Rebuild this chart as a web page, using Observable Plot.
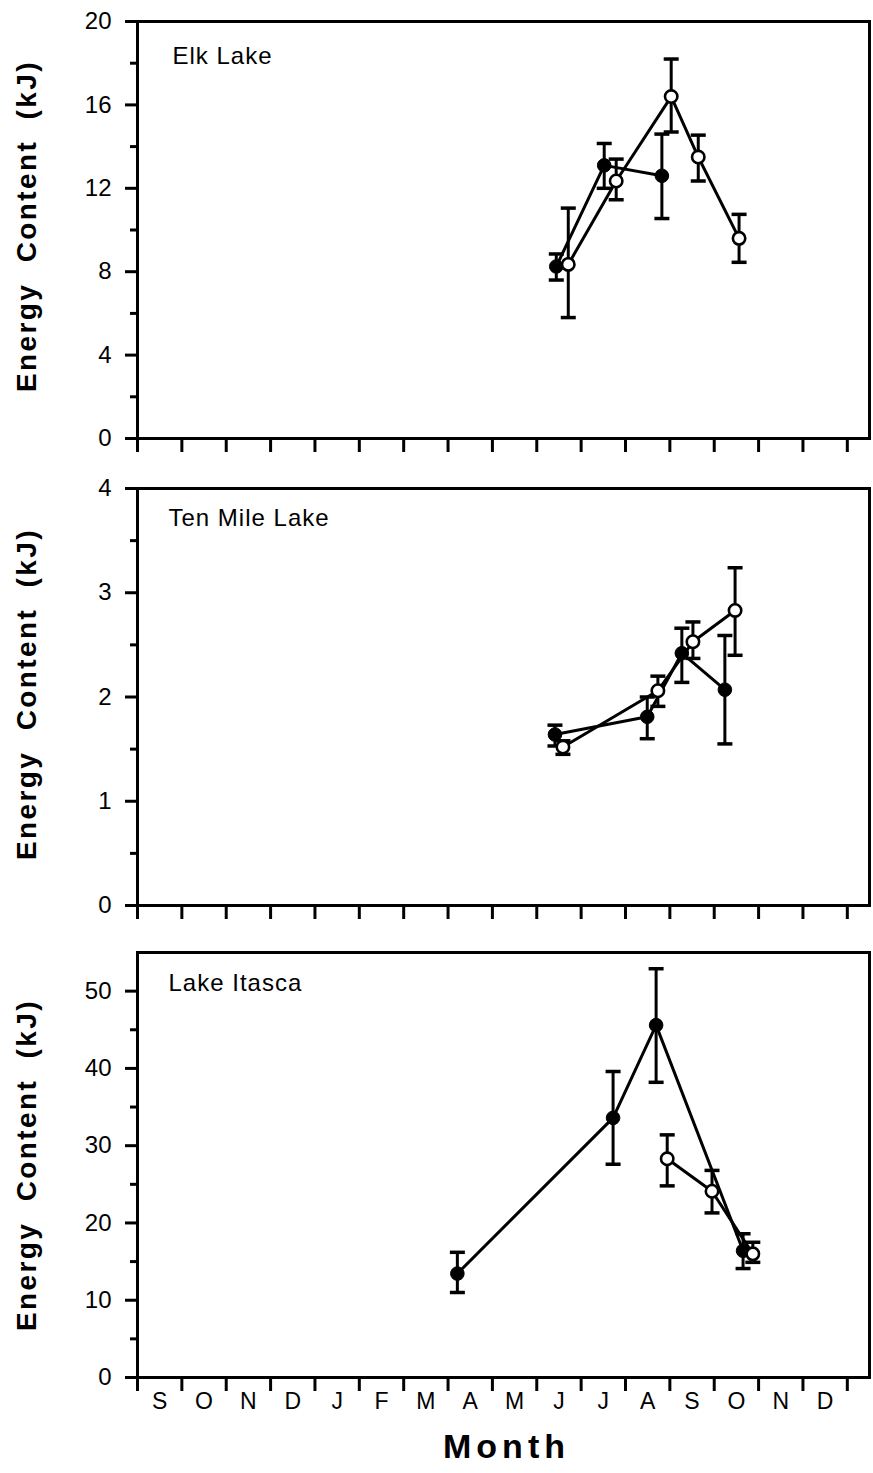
<!DOCTYPE html>
<html><head><meta charset="utf-8">
<script src="https://cdn.jsdelivr.net/npm/d3@7"></script>
<script src="https://cdn.jsdelivr.net/npm/@observablehq/plot@0.6"></script>
<style>
html,body{margin:0;padding:0;background:#fff;}
#chart svg{display:block;}
</style></head><body><div id="chart"></div>
<script>
// ---- shared labels ----
const months = ["S","O","N","D","J","F","M","A","M","J","J","A","S","O","N","D"];
const yLabel = "Energy  Content  (kJ)";
const xLabel = "Month";

// ---- Elk Lake ----
const elkTitle = "Elk Lake";
const elkTicks = [0, 4, 8, 12, 16, 20];
const elkMinorTicks = [2, 6, 10, 14, 18];
const elkFilledMonth = [9.44, 10.52, 11.82];
const elkFilledValue = [8.25, 13.1, 12.6];
const elkFilledLow   = [7.6, 12.0, 10.55];
const elkFilledHigh  = [8.85, 14.15, 14.6];
const elkOpenMonth = [9.71, 10.79, 12.03, 12.64, 13.56];
const elkOpenValue = [8.35, 12.35, 16.4, 13.5, 9.6];
const elkOpenLow   = [5.8, 11.45, 14.7, 12.35, 8.45];
const elkOpenHigh  = [11.05, 13.4, 18.2, 14.55, 10.75];

// ---- Ten Mile Lake ----
const tenTitle = "Ten Mile Lake";
const tenTicks = [0, 1, 2, 3, 4];
const tenMinorTicks = [0.5, 1.5, 2.5, 3.5];
const tenFilledMonth = [9.41, 11.49, 12.27, 13.24];
const tenFilledValue = [1.64, 1.81, 2.42, 2.07];
const tenFilledLow   = [1.53, 1.6, 2.14, 1.55];
const tenFilledHigh  = [1.73, 2.0, 2.66, 2.59];
const tenOpenMonth = [9.59, 11.73, 12.52, 13.47];
const tenOpenValue = [1.52, 2.06, 2.53, 2.83];
const tenOpenLow   = [1.45, 1.91, 2.37, 2.4];
const tenOpenHigh  = [1.58, 2.2, 2.72, 3.24];

// ---- Lake Itasca ----
const itaTitle = "Lake Itasca";
const itaTicks = [0, 10, 20, 30, 40, 50];
const itaMinorTicks = [5, 15, 25, 35, 45];
const itaFilledMonth = [7.21, 10.72, 11.69, 13.65];
const itaFilledValue = [13.45, 33.6, 45.6, 16.4];
const itaFilledLow   = [11.0, 27.6, 38.2, 14.1];
const itaFilledHigh  = [16.2, 39.6, 52.9, 18.6];
const itaOpenMonth = [11.94, 12.95, 13.87];
const itaOpenValue = [28.3, 24.1, 16.0];
const itaOpenLow   = [24.8, 21.3, 14.9];
const itaOpenHigh  = [31.4, 26.8, 17.5];

const FONT = "'Liberation Sans', Arial, Helvetica, sans-serif";

const rows = (m, v, lo, hi) => m.map((d, i) => ({month: d, value: v[i], low: lo[i], high: hi[i]}));

// horizontal cap symbol for error bars
const capSymbol = {
  draw(context, size) {
    const r = Math.sqrt(size / Math.PI);
    context.moveTo(-r, 0);
    context.lineTo(r, 0);
  }
};

function panel({title, yMax, ticks, minor, filled, open, height, marginTop, marginBottom, bottom, titleDx, titleDy, labelDy}) {
  const monthTicks = d3.range(months.length + 1);
  const series = [filled, open];
  const marks = [];
  // y axis
  marks.push(Plot.axisY({ticks, tickSize: 12, tickPadding: 14, strokeWidth: 3, fontSize: 24,
    tickFormat: d => String(d), label: null}));
  marks.push(Plot.axisY({ticks: minor, tickSize: 7, strokeWidth: 3, tickFormat: () => "", label: null}));
  // x axis ticks
  marks.push(Plot.axisX({ticks: monthTicks, tickSize: 14, strokeWidth: 3, tickFormat: () => "", label: null}));
  if (bottom) {
    marks.push(Plot.axisX({ticks: months.map((m, i) => i + 0.5), tickSize: 0, tickPadding: 15,
      fontSize: 23, tickFormat: d => months[Math.floor(d)], label: null}));
    marks.push(Plot.text([xLabel], {frameAnchor: "bottom", dy: 80, dx: 3, fontSize: 34, fontWeight: "bold"}));
  }
  marks.push(Plot.frame({strokeWidth: 3}));
  // y label
  marks.push(Plot.text([yLabel], {frameAnchor: "left", dx: -110, dy: labelDy, rotate: -90, fontSize: 28,
    textAnchor: "middle", fontWeight: "bold"}));
  // title
  marks.push(Plot.text([title], {frameAnchor: "top-left", dx: titleDx, dy: titleDy, fontSize: 24,
    textAnchor: "start", lineAnchor: "top"}));
  for (const s of series) {
    marks.push(Plot.line(s, {x: "month", y: "value", stroke: "black", strokeWidth: 3}));
    marks.push(Plot.ruleX(s, {x: "month", y1: "low", y2: "high", stroke: "black", strokeWidth: 3}));
    marks.push(Plot.dot(s, {x: "month", y: "low", symbol: capSymbol, r: 7.5, stroke: "black", strokeWidth: 3.5, fill: "none"}));
    marks.push(Plot.dot(s, {x: "month", y: "high", symbol: capSymbol, r: 7.5, stroke: "black", strokeWidth: 3.5, fill: "none"}));
  }
  marks.push(Plot.dot(filled, {x: "month", y: "value", r: 6.8, fill: "black", stroke: "black", strokeWidth: 1}));
  marks.push(Plot.dot(open, {x: "month", y: "value", r: 6.2, fill: "white", stroke: "black", strokeWidth: 2.6}));

  const svg = Plot.plot({
    width: 873,
    height,
    marginLeft: 137,
    marginRight: 4,
    marginTop,
    marginBottom,
    style: {fontFamily: FONT, color: "black", background: "white", overflow: "visible"},
    x: {domain: [0, 16.5], label: null},
    y: {domain: [0, yMax], label: null},
    marks
  });
  // letter spacing / preserved spaces for the label texts
  d3.select(svg).selectAll("text").each(function() {
    const t = this.textContent;
    if (t === yLabel) d3.select(this).style("white-space", "pre").attr("letter-spacing", 2.4);
    else if (t === xLabel) d3.select(this).attr("letter-spacing", 5);
    else if (t === title) d3.select(this).attr("letter-spacing", 1);
  });
  return svg;
}

const chart = document.getElementById("chart");
chart.append(panel({
  title: elkTitle, yMax: 20, ticks: elkTicks, minor: elkMinorTicks,
  filled: rows(elkFilledMonth, elkFilledValue, elkFilledLow, elkFilledHigh),
  open: rows(elkOpenMonth, elkOpenValue, elkOpenLow, elkOpenHigh),
  height: 470, marginTop: 21, marginBottom: 32, bottom: false, titleDx: 35, titleDy: 25, labelDy: -4
}));
chart.append(panel({
  title: tenTitle, yMax: 4, ticks: tenTicks, minor: tenMinorTicks,
  filled: rows(tenFilledMonth, tenFilledValue, tenFilledLow, tenFilledHigh),
  open: rows(tenOpenMonth, tenOpenValue, tenOpenLow, tenOpenHigh),
  height: 470, marginTop: 18, marginBottom: 35, bottom: false, titleDx: 31, titleDy: 20, labelDy: -3
}));
chart.append(panel({
  title: itaTitle, yMax: 55, ticks: itaTicks, minor: itaMinorTicks,
  filled: rows(itaFilledMonth, itaFilledValue, itaFilledLow, itaFilledHigh),
  open: rows(itaOpenMonth, itaOpenValue, itaOpenLow, itaOpenHigh),
  height: 533, marginTop: 12, marginBottom: 96, bottom: true, titleDx: 31, titleDy: 21, labelDy: 0
}));
</script>
</body></html>
